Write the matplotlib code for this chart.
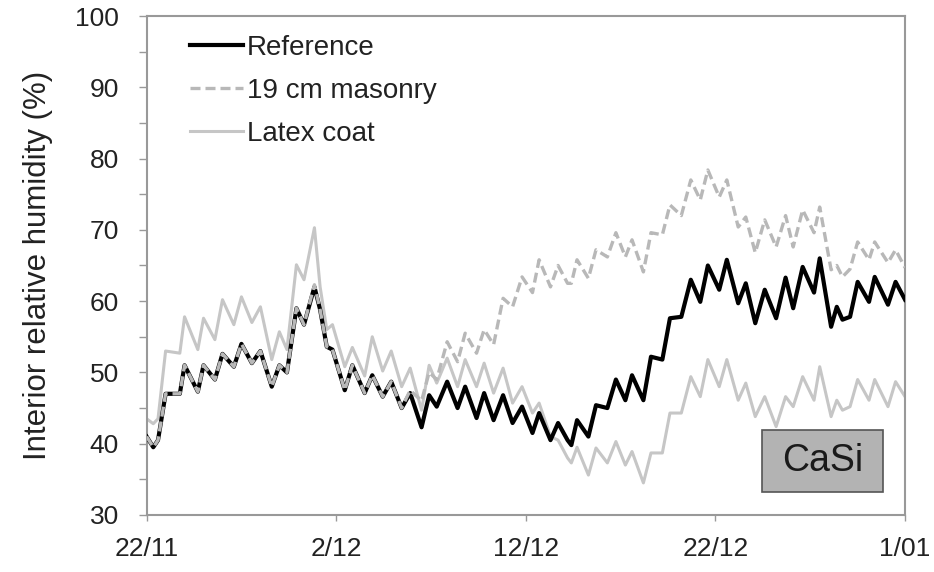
import numpy as np
import matplotlib
matplotlib.use("Agg")
import matplotlib.pyplot as plt
from matplotlib.patches import Rectangle
from matplotlib.ticker import MultipleLocator

plt.rcParams["font.family"] = ["Liberation Sans", "DejaVu Sans"]

# sample times in days after 22/11 (daily minima and maxima)
t_days = [
    0.0, 0.35, 0.6, 1.0, 1.75, 2.0, 2.7, 3.0, 3.6, 4.0,
    4.6, 5.0, 5.55, 6.0, 6.6, 7.0, 7.4, 7.9, 8.3, 8.85,
    9.15, 9.5, 9.8, 10.45, 10.85, 11.5, 11.9, 12.45, 12.9, 13.45,
    13.9, 14.5, 14.9, 15.3, 15.85, 16.4, 16.8, 17.4, 17.8, 18.3,
    18.8, 19.3, 19.8, 20.35, 20.7, 21.3, 21.7, 22.2, 22.4, 22.7,
    23.3, 23.7, 24.3, 24.75, 25.25, 25.6, 26.2, 26.6, 27.2, 27.6,
    28.2, 28.7, 29.2, 29.6, 30.2, 30.6, 31.2, 31.6, 32.1, 32.6,
    33.2, 33.7, 34.1, 34.6, 35.2, 35.5, 36.1, 36.4, 36.7, 37.1,
    37.5, 38.1, 38.4, 39.1, 39.5, 40.0,
]

rh_reference = [
    41.0, 39.5, 40.5, 47.0, 47.0, 51.0, 47.3, 51.0, 49.0, 52.6,
    50.8, 54.0, 51.3, 53.0, 48.0, 51.0, 50.0, 59.0, 56.7, 62.0,
    58.8, 53.6, 53.2, 47.5, 51.0, 47.1, 49.6, 46.6, 48.7, 45.0,
    47.1, 42.3, 46.8, 45.2, 48.7, 45.0, 48.0, 43.6, 47.1, 43.3,
    46.8, 42.9, 45.2, 41.5, 44.3, 40.5, 42.9, 40.5, 39.8, 43.3,
    41.0, 45.4, 45.0, 49.0, 46.1, 49.6, 46.1, 52.2, 51.8, 57.6,
    57.8, 63.0, 59.9, 65.0, 61.6, 65.8, 59.7, 62.5, 56.9, 61.6,
    57.6, 63.3, 59.0, 64.8, 61.2, 66.0, 56.4, 59.2, 57.4, 57.8,
    62.7, 59.9, 63.4, 59.5, 62.7, 60.2,
]

rh_masonry = [
    41.0, 39.5, 40.5, 47.0, 47.0, 51.0, 47.3, 51.0, 49.0, 52.6,
    50.8, 54.0, 51.3, 53.0, 48.0, 51.0, 50.0, 59.0, 56.7, 62.3,
    58.8, 53.6, 53.2, 47.5, 51.0, 47.1, 49.6, 46.6, 48.7, 45.0,
    47.5, 46.0, 50.0, 49.0, 54.3, 51.5, 55.5, 52.7, 56.0, 53.9,
    60.4, 59.2, 63.4, 61.2, 65.8, 62.0, 65.0, 62.5, 62.5, 65.8,
    63.2, 67.2, 66.2, 69.6, 66.2, 68.6, 64.1, 69.6, 69.3, 73.5,
    72.0, 77.0, 74.2, 78.4, 74.6, 77.0, 70.4, 71.8, 66.8, 71.4,
    67.6, 72.0, 67.6, 72.8, 69.6, 73.2, 64.4, 65.0, 63.4, 64.5,
    68.3, 65.8, 68.3, 65.4, 67.2, 64.7,
]

rh_latex = [
    43.5, 42.8, 43.5, 53.0, 52.7, 57.8, 53.2, 57.6, 54.6, 60.2,
    56.7, 60.6, 57.0, 59.2, 51.8, 55.7, 53.2, 65.1, 63.0, 70.3,
    62.0, 56.0, 56.7, 50.8, 53.5, 49.5, 55.0, 50.2, 53.0, 48.0,
    50.6, 44.7, 51.0, 48.5, 52.0, 48.0, 51.8, 48.0, 51.3, 47.1,
    50.6, 45.7, 48.0, 44.3, 45.7, 41.0, 40.5, 38.0, 37.3, 39.5,
    35.6, 39.4, 37.3, 40.3, 37.0, 38.9, 34.5, 38.7, 38.7, 44.3,
    44.3, 49.4, 46.6, 51.8, 48.0, 51.8, 46.1, 48.5, 43.8, 46.6,
    42.4, 46.6, 45.2, 49.4, 46.1, 50.8, 43.8, 46.1, 44.7, 45.2,
    49.0, 46.1, 49.0, 45.2, 48.7, 46.6,
]

date_ticks = [0, 10, 20, 30, 40]
date_labels = ["22/11", "2/12", "12/12", "22/12", "1/01"]

t = np.array(t_days)

fig = plt.figure(figsize=(9.34, 5.72), dpi=100)
ax = fig.add_axes([0.157, 0.0997, 0.812, 0.8723])

ax.plot(t, rh_latex, color="#c6c6c6", lw=2.2, label="Latex coat", zorder=2)
ax.plot(t, rh_reference, color="black", lw=3.0, label="Reference", zorder=3)
ax.plot(t, rh_masonry, color="#b8b8b8", lw=2.4, ls=(0, (3.0, 1.5)),
        label="19 cm masonry", zorder=4)

ax.set_xlim(0, 40)
ax.set_ylim(30, 100)
ax.set_xticks(date_ticks)
ax.set_xticklabels(date_labels)
ax.yaxis.set_major_locator(MultipleLocator(10))
ax.yaxis.set_minor_locator(MultipleLocator(5))
ax.tick_params(axis="both", which="major", labelsize=19, colors="#999999",
               labelcolor="#222222", length=6, width=1)
ax.tick_params(axis="y", which="minor", colors="#999999", length=6, width=1)
ax.tick_params(axis="x", which="major", length=4, pad=12)
ax.tick_params(axis="y", which="major", pad=14)

for side in ["left", "bottom", "top", "right"]:
    ax.spines[side].set_color("#999999")
    ax.spines[side].set_linewidth(1.5)

ax.set_ylabel("Interior relative humidity (%)", fontsize=22.5, color="#222222",
              labelpad=16)

handles, labels = ax.get_legend_handles_labels()
order = [1, 2, 0]
leg = ax.legend([handles[i] for i in order], [labels[i] for i in order],
                loc="upper left", bbox_to_anchor=(0.035, 0.996), frameon=False,
                fontsize=20, handlelength=1.9, handletextpad=0.15,
                labelspacing=0.62, borderaxespad=0.2)
for txt in leg.get_texts():
    txt.set_color("#222222")

# material label box in the lower right corner
ax.add_patch(Rectangle((0.811, 0.046), 0.16, 0.124, transform=ax.transAxes,
                       facecolor="#b3b3b3", edgecolor="#555555", lw=1.2,
                       zorder=5))
ax.text(0.891, 0.108, "CaSi", transform=ax.transAxes, ha="center", va="center",
        fontsize=27, color="#1a1a1a", zorder=6)

fig.savefig("out.png", dpi=100)
